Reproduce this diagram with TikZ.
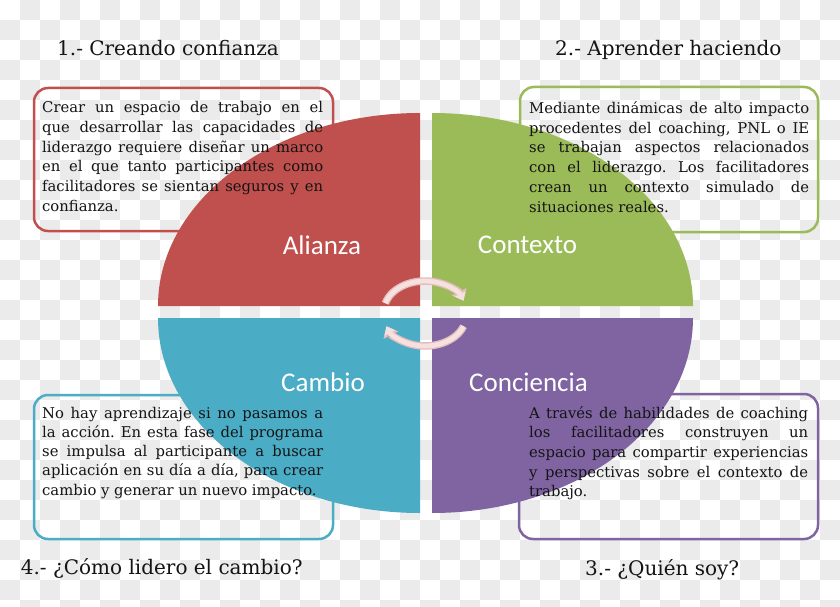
\documentclass[tikz,border=0pt]{standalone}
\usepackage{fontspec}
\setmainfont{DejaVu Serif}
\newfontfamily\labfont{Carlito}
\usetikzlibrary{arrows.meta}
\definecolor{cred}{HTML}{C0504D}
\definecolor{cgreen}{HTML}{9BBB59}
\definecolor{cblue}{HTML}{4BACC6}
\definecolor{cpurple}{HTML}{8064A2}
\definecolor{bggrey}{HTML}{EBEBEB}
\definecolor{arrfill}{HTML}{F4E1E0}
\definecolor{arrline}{HTML}{E6BCBB}
\definecolor{txt}{HTML}{141414}
\frenchspacing
\newcommand\jl[1]{\hbox to \hsize{\spaceskip=0.318em plus 1fill minus 0.12em\relax #1}}
\tikzset{
  bodytxt/.style={inner sep=0pt, anchor=base west, text=txt, font=\fontsize{14.8}{19.8}\selectfont},
  titletxt/.style={inner sep=0pt, anchor=base west, text=txt, font=\fontsize{20}{24}\selectfont},
  labtxt/.style={inner sep=0pt, text=white, font=\labfont\fontsize{27}{30}\selectfont},
  infobox/.style={line width=2.5pt, rounded corners=14pt},
  arrout/.style={draw=arrline, line width=7.5pt, -{Triangle[width=16pt,length=10pt]}},
  arrin/.style={draw=arrfill, line width=4.8pt, -{Triangle[width=11.5pt,length=7.5pt]}}
}
\begin{document}
\begin{tikzpicture}[x=1pt, y={(0pt,-1pt)}]
\useasboundingbox (0,0) rectangle (840,607);
% checkerboard background
\begin{scope}
\clip (0,0) rectangle (840,607);
\fill[white] (0,0) rectangle (840,607);
\foreach \j in {0,2,...,30} \foreach \i in {1,3,...,41} \fill[bggrey] (\i*20,\j*20) rectangle ++(20,20);
\foreach \j in {1,3,...,29} \foreach \i in {0,2,...,40} \fill[bggrey] (\i*20,\j*20) rectangle ++(20,20);
\end{scope}
% text boxes (borders)
\draw[infobox, draw=cred] (34,88) rectangle (333,231);
\draw[infobox, draw=cgreen] (520,87) rectangle (818,232);
\draw[infobox, draw=cblue] (34,395) rectangle (333,539);
\draw[infobox, draw=cpurple] (519,394) rectangle (818,539);
% quadrants
\fill[cred] (420,306) -- (158,306) arc[start angle=180, end angle=270, x radius=262, y radius=193] -- cycle;
\fill[cgreen] (432,306) -- (432,113) arc[start angle=270, end angle=360, x radius=261, y radius=193] -- cycle;
\fill[cpurple] (432,318) -- (693,318) arc[start angle=0, end angle=90, x radius=261, y radius=195] -- cycle;
\fill[cblue] (420,318) -- (420,513) arc[start angle=90, end angle=180, x radius=262, y radius=195] -- cycle;
% cycle arrows
\path (425,311) ++(195:41 and 30) coordinate (tstart);
\path (425,316) ++(20:41 and 30) coordinate (bstart);
\draw[arrout] (tstart) arc[start angle=195, end angle=340, x radius=41, y radius=30];
\draw[arrin] (tstart) arc[start angle=195, end angle=340, x radius=41, y radius=30];
\draw[arrout] (bstart) arc[start angle=20, end angle=160, x radius=41, y radius=30];
\draw[arrin] (bstart) arc[start angle=20, end angle=160, x radius=41, y radius=30];
% labels
\node[labtxt] (alianza) at (322,245) {Alianza};
\node[labtxt] (contexto) at (527.5,245) {Contexto};
\node[labtxt] (cambio) at (323,382) {Cambio};
\node[labtxt] (conciencia) at (528.5,382) {Conciencia};
% titles
\node[titletxt] (t1) at (57,56) {1.- Creando confianza};
\node[titletxt] (t2) at (555,56) {2.- Aprender haciendo};
\node[titletxt] (t4) at (20.7,574.3) {4.- ¿Cómo lidero el cambio?};
\node[titletxt] (t3) at (585,575) {3.- ¿Quién soy?};
% box texts
\node[bodytxt] (b1) at (42,112.3) {\parbox[t]{281pt}{\baselineskip=19.9pt
\jl{Crear un espacio de trabajo en el}\jl{que desarrollar las capacidades de}\jl{liderazgo requiere diseñar un marco}\jl{en el que tanto participantes como}\jl{facilitadores se sientan seguros y en}\hbox{confianza.}}};
\node[bodytxt] (b2) at (529,113.3) {\parbox[t]{280pt}{\baselineskip=19.8pt
\jl{Mediante dinámicas de alto impacto}\jl{procedentes del coaching, PNL o IE}\jl{se trabajan aspectos relacionados}\jl{con el liderazgo. Los facilitadores}\jl{crean un contexto simulado de}\hbox{situaciones reales.}}};
\node[bodytxt] (b4) at (42,418.3) {\parbox[t]{281pt}{\baselineskip=19.2pt
\jl{No hay aprendizaje si no pasamos a}\jl{la acción. En esta fase del programa}\jl{se impulsa al participante a buscar}\jl{aplicación en su día a día, para crear}\hbox{cambio y generar un nuevo impacto.}}};
\node[bodytxt] (b3) at (529,418.3) {\parbox[t]{279pt}{\baselineskip=19.6pt
\jl{A través de habilidades de coaching}\jl{los facilitadores construyen un}\jl{espacio para compartir experiencias}\jl{y perspectivas sobre el contexto de}\hbox{trabajo.}}};
\end{tikzpicture}
\end{document}
